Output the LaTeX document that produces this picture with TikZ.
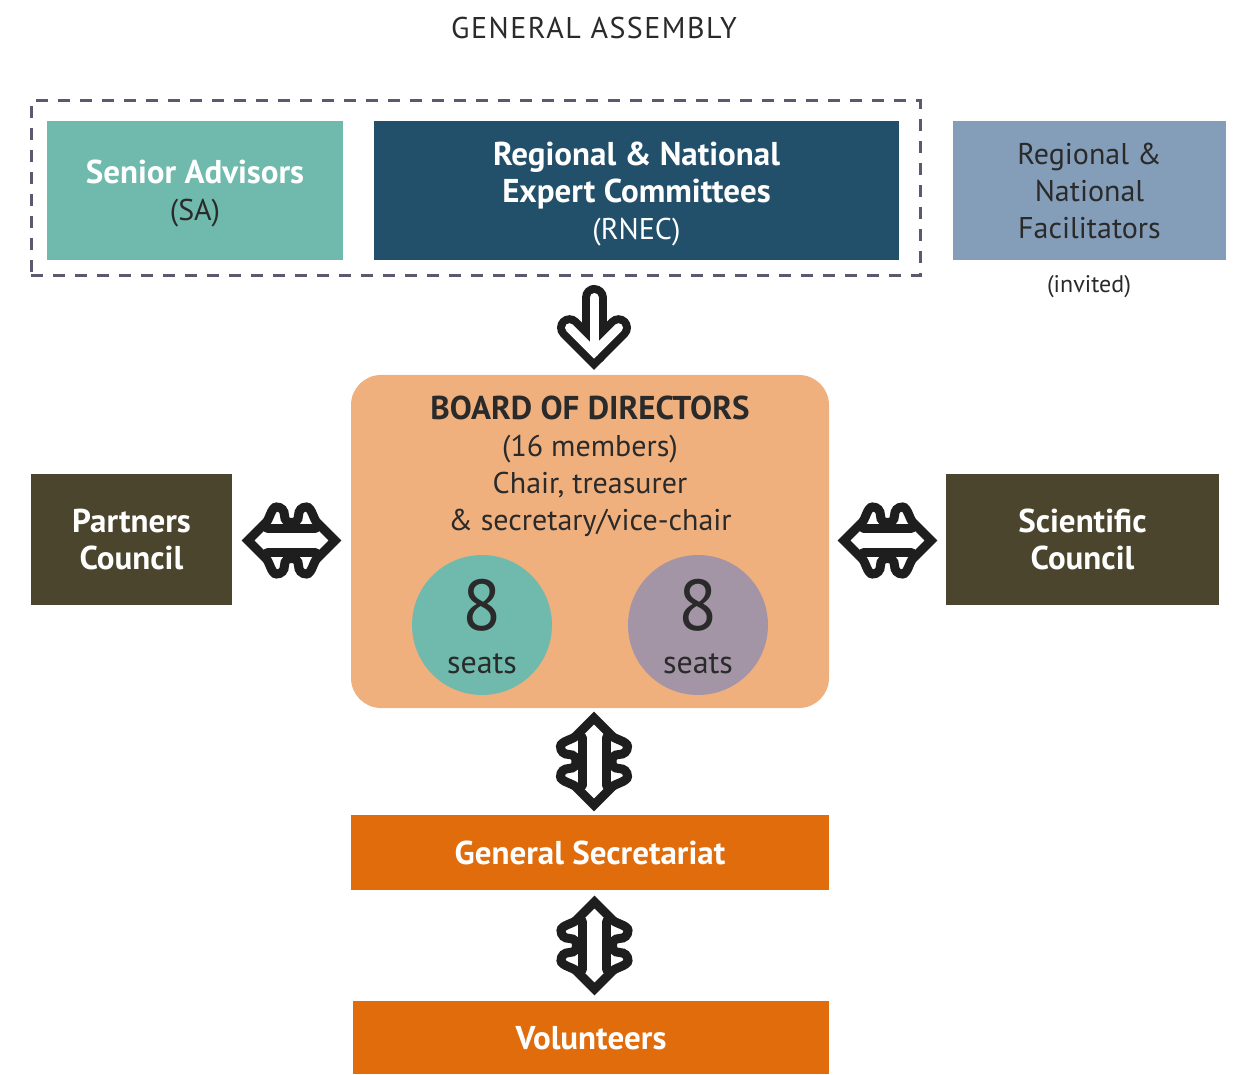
\documentclass[tikz,border=0pt]{standalone}
\usepackage{fontspec}
\setmainfont{PT Sans}
\usetikzlibrary{positioning,calc}

\definecolor{saGreen}{HTML}{6FBAAD}
\definecolor{rnecBlue}{HTML}{22506B}
\definecolor{facBlue}{HTML}{849EBA}
\definecolor{frameGrey}{HTML}{5B5870}
\definecolor{boardOrange}{HTML}{F0B07E}
\definecolor{seatPurple}{HTML}{A395A6}
\definecolor{councilOlive}{HTML}{4A452C}
\definecolor{secOrange}{HTML}{E06C0C}
\definecolor{inkDark}{HTML}{2A2A2A}
\definecolor{arrowInk}{HTML}{1E1E1E}

\newcommand{\hd}[1]{{\fontsize{16.5}{18.5}\selectfont\bfseries #1}}

\tikzset{
  box/.style={inner sep=0pt, align=center, text=white, text depth=0pt,
    font=\fontsize{15}{18.5}\selectfont},
  seat/.style={circle, minimum size=70pt, inner sep=0pt},
  seatnum/.style={anchor=base, text=inkDark, font=\fontsize{36}{36}\selectfont},
  seatlbl/.style={anchor=base, text=inkDark, font=\fontsize{16}{18}\selectfont},
  arrowline/.style={line width=4.5pt, draw=arrowInk, line cap=round, line join=round},
  arrowouter/.style={line width=12.5pt, draw=arrowInk, line cap=round, line join=miter},
  arrowinner/.style={line width=4.5pt, draw=white, line cap=round, line join=miter},
  % hollow double arrow with curled barbs
  dblarrow/.pic={
    \draw[arrowline, fill=white]
      (-43.6,0) [line join=miter] -- (-25,-18.6)
      .. controls (-22,-21.6) and (-20,-33.5) .. (-15,-33.5)
      .. controls (-10,-33.5) and (-7,-30) .. (-7,-25)
      .. controls (-7,-20) and (-4,-18) .. (0,-18)
      .. controls (4,-18) and (7,-20) .. (7,-25)
      .. controls (7,-30) and (10,-33.5) .. (15,-33.5)
      .. controls (20,-33.5) and (22,-21.6) .. (25,-18.6) -- (43.6,0)
      -- (25,18.6)
      .. controls (22,21.6) and (20,33.5) .. (15,33.5)
      .. controls (10,33.5) and (7,30) .. (7,25)
      .. controls (7,20) and (4,18) .. (0,18)
      .. controls (-4,18) and (-7,20) .. (-7,25)
      .. controls (-7,30) and (-10,33.5) .. (-15,33.5)
      .. controls (-20,33.5) and (-22,21.6) .. (-25,18.6) -- cycle;
    \draw[arrowline] (-24,-12) -- (24,-12);
    \draw[arrowline] (-24,12) -- (24,12);
  },
  downarrow/.pic={
    \foreach \s in {arrowouter,arrowinner} {
      \draw[\s] (0,-30) -- (0,24.7);
      \draw[\s] (-24.5,0.2) -- (0,24.7) -- (24.5,0.2);
    }
  }
}

\begin{document}
\begin{tikzpicture}[x=0.5pt,y=-0.5pt]
  \useasboundingbox (0,0) rectangle (1233,1075);

  % general assembly
  \node[text=inkDark, font=\fontsize{15}{18}\selectfont\addfontfeatures{LetterSpace=5}] at (594,28) (ga) {GENERAL ASSEMBLY};
  \node[draw=frameGrey, line width=1.5pt, dash pattern=on 6pt off 5pt,
    minimum width=444.5pt, minimum height=87.5pt, inner sep=0pt] at (475.5,188.5) (frame) {};
  \node[box, fill=saGreen, minimum width=148pt, minimum height=69.5pt] at (195,190.5) (sa)
    {\hd{Senior Advisors}\\\textcolor{inkDark}{(SA)}};
  \node[box, fill=rnecBlue, minimum width=262.5pt, minimum height=69.5pt] at (636.5,190.5) (rnec)
    {\hd{Regional \& National}\\\hd{Expert Committees}\\(RNEC)};
  \node[box, fill=facBlue, text=inkDark, minimum width=136.5pt, minimum height=69.5pt] at (1089.5,190.5) (fac)
    {Regional \&\\National\\Facilitators};
  \node[text=inkDark, font=\fontsize{12}{14}\selectfont] at (1089,287) (invited) {(invited)};

  % board
  \node[fill=boardOrange, rounded corners=15pt, minimum width=239pt, minimum height=166.5pt] at (590,541.5) (board) {};
  \node[box, text=inkDark] at (590,463) (boardtxt)
    {\hd{BOARD OF DIRECTORS}\\(16 members)\\Chair, treasurer\\\& secretary/vice-chair};
  \node[seat, fill=saGreen] at (482,625) (seatsA) {};
  \node[seat, fill=seatPurple] at (698,625) (seatsB) {};
  \node[seatnum] at ($(seatsA.center)+(0,5)$) (numA) {8};
  \node[seatlbl] at ($(seatsA.center)+(0,48)$) (lblA) {seats};
  \node[seatnum] at ($(seatsB.center)+(0,5)$) (numB) {8};
  \node[seatlbl] at ($(seatsB.center)+(0,48)$) (lblB) {seats};

  % councils
  \node[box, fill=councilOlive, minimum width=100.5pt, minimum height=65.5pt] at (131.5,539.5) (partners)
    {\hd{Partners}\\\hd{Council}};
  \node[box, fill=councilOlive, minimum width=136.5pt, minimum height=65.5pt] at (1082.5,539.5) (sci)
    {\hd{Scientific}\\\hd{Council}};

  % secretariat and volunteers
  \node[box, fill=secOrange, minimum width=239pt, minimum height=37.5pt] at (590,852.5) (gs)
    {\hd{General Secretariat}};
  \node[box, fill=secOrange, minimum width=238pt, minimum height=36.5pt] at (591,1037.5) (vol)
    {\hd{Volunteers}};

  % arrows
  \pic at (594,327.5) {downarrow};
  \pic at ($(partners.east)!0.5!(board.west)$) {dblarrow};
  \pic at ($(board.east)!0.5!(sci.west)$) {dblarrow};
  \pic[rotate=90] at ($(board.south)!0.5!(gs.north)+(4,0)$) {dblarrow};
  \pic[rotate=90] at ($(gs.south)!0.5!(vol.north)+(4,0)$) {dblarrow};
\end{tikzpicture}
\end{document}
